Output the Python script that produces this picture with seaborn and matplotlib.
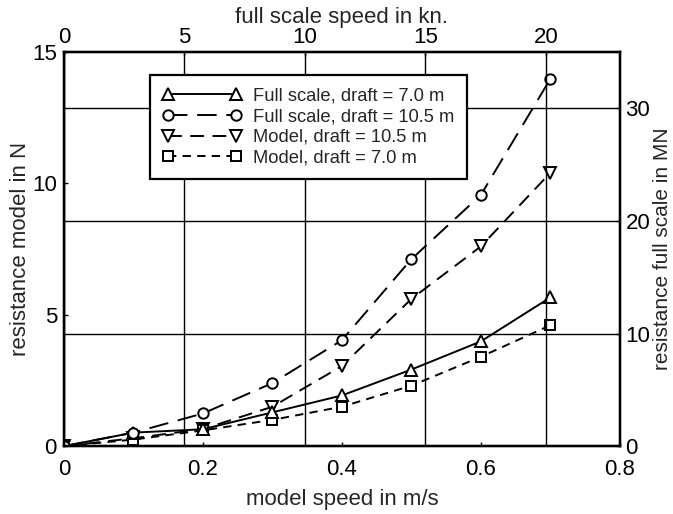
import matplotlib
matplotlib.use("Agg")
import matplotlib.pyplot as plt
import seaborn as sns
import pandas as pd

# ---- data ----
model_speed = [0.0, 0.1, 0.2, 0.3, 0.4, 0.5, 0.6, 0.7]           # m/s
full_7_0 = [0.0, 1.2, 1.5, 3.0, 4.5, 6.8, 9.3, 13.2]              # MN
full_10_5 = [0.0, 1.2, 2.9, 5.6, 9.4, 16.6, 22.3, 32.6]           # MN
model_10_5 = [0.0, 0.3, 0.65, 1.5, 3.05, 5.6, 7.6, 10.4]          # N
model_7_0 = [0.0, 0.25, 0.6, 1.0, 1.5, 2.3, 3.4, 4.6]             # N

labels = ["Full scale, draft = 7.0 m", "Full scale, draft = 10.5 m",
          "Model, draft = 10.5 m", "Model, draft = 7.0 m"]

bottom_ticks = [0, 0.2, 0.4, 0.6, 0.8]
bottom_ticklabels = ["0", "0.2", "0.4", "0.6", "0.8"]
left_ticks = [0, 5, 10, 15]
right_ticks = [0, 10, 20, 30]
top_ticks = [0, 5, 10, 15, 20]

MODEL_SCALE = 220.0                     # geometric scale factor
KN_PER_MS = 1.0 / 0.514444
top_max = 0.8 * MODEL_SCALE ** 0.5 * KN_PER_MS

sns.set_style("white")
plt.rcParams["font.family"] = ["Liberation Sans", "DejaVu Sans"]
plt.rcParams["lines.scale_dashes"] = False

fig, ax = plt.subplots(figsize=(6.73, 5.14), dpi=100)
fig.subplots_adjust(left=0.095, right=0.921, top=0.899, bottom=0.132)

axr = ax.twinx()
axt = ax.twiny()

df_m = pd.DataFrame({"v": model_speed, "m105": model_10_5, "m70": model_7_0,
                     "f70": full_7_0, "f105": full_10_5})

common = dict(color="k", linewidth=1.4, markerfacecolor="white",
              markeredgecolor="k", markeredgewidth=1.4)

sns.lineplot(data=df_m, x="v", y="f70", ax=axr, marker="^", markersize=8,
             linestyle="-", label=labels[0], legend=False, **common)
sns.lineplot(data=df_m, x="v", y="f105", ax=axr, marker="o", markersize=7.5,
             linestyle=(0, (14, 7)), label=labels[1], legend=False, **common)
sns.lineplot(data=df_m, x="v", y="m105", ax=ax, marker="v", markersize=8,
             linestyle=(0, (10, 6)), label=labels[2], legend=False, **common)
sns.lineplot(data=df_m, x="v", y="m70", ax=ax, marker="s", markersize=7,
             linestyle=(0, (6, 4.5)), label=labels[3], legend=False, **common)

ax.set_xlim(0, 0.8)
ax.set_ylim(0, 15)
axr.set_ylim(0, 35)
axt.set_xlim(0, top_max)

ax.set_xticks(bottom_ticks)
ax.set_xticklabels(bottom_ticklabels)
ax.set_yticks(left_ticks)
axr.set_yticks(right_ticks)
axt.set_xticks(top_ticks)

fs = 16
ax.set_xlabel("model speed in m/s", fontsize=fs, labelpad=7)
ax.set_ylabel("resistance model in N", fontsize=fs, labelpad=1)
axr.set_ylabel("resistance full scale in MN", fontsize=15, labelpad=2)
axt.set_xlabel("full scale speed in kn.", fontsize=fs, labelpad=3)

for a in (ax, axr, axt):
    a.tick_params(labelsize=fs, colors="k", direction="in", length=3, width=1, pad=5)
    for s in a.spines.values():
        s.set_color("k")
        s.set_linewidth(1.6)
ax.tick_params(axis="x", pad=9)
axt.tick_params(axis="x", pad=3)
axr.tick_params(axis="y", pad=4)

axr.grid(axis="y", color="k", linewidth=1.0)
axt.grid(axis="x", color="k", linewidth=1.0)
ax.grid(False)

handles = axr.get_lines()[:2] + ax.get_lines()[:2]
leg = axt.legend(handles, labels, loc="upper left", bbox_to_anchor=(0.155, 0.942),
                 bbox_transform=ax.transAxes, borderaxespad=0, fontsize=13.2,
                 numpoints=2, handlelength=4.3, handletextpad=0.6, labelspacing=0.2,
                 borderpad=0.7, fancybox=False, framealpha=1, edgecolor="k")
leg.get_frame().set_linewidth(1.6)

fig.savefig("out.png", dpi=100)
